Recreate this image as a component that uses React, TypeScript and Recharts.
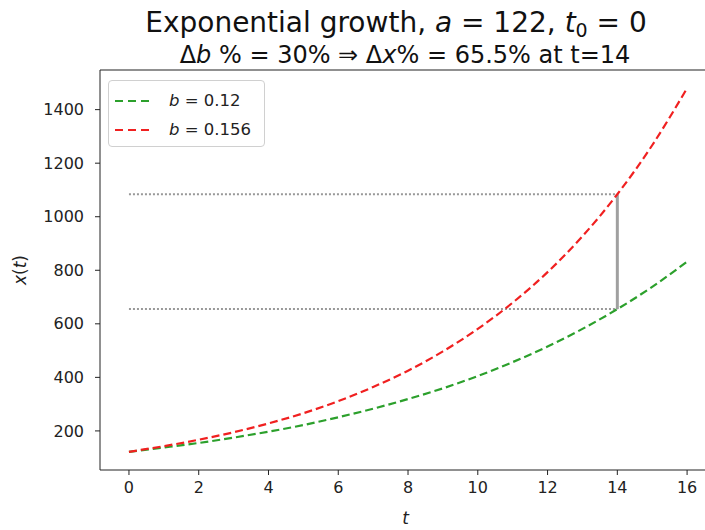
import { LineChart, Line, XAxis, YAxis, ReferenceLine, Legend, Label } from "recharts";

// t values and x(t)
const tValues = [0, 1, 2, 3, 4, 5, 6, 7, 8, 9, 10, 11, 12, 13, 14, 15, 16];
const xSlow = [122, 138, 155, 175, 197, 222, 251, 283, 319, 359, 405, 457, 515, 581, 655, 738, 832];
const xFast = [122, 143, 167, 195, 228, 266, 311, 364, 425, 497, 581, 679, 793, 927, 1084, 1267, 1480];
const bLabels = ["0.12", "0.156"];

const xTicks = [0, 2, 4, 6, 8, 10, 12, 14, 16];
const yTicks = [200, 400, 600, 800, 1000, 1200, 1400];

// comparison marker at t = 14
const markT = 14;
const markSlow = 655;
const markFast = 1084;

const FONT = "'DejaVu Sans', sans-serif";
const GREEN = "#2ca02c";
const RED = "#f02020";

const data = tValues.map((t, i) => ({ t, slow: xSlow[i], fast: xFast[i] }));

function LegendBox({ payload }: any) {
  return (
    <div
      style={{
        border: "1px solid #d0d0d0",
        borderRadius: 4,
        background: "#fff",
        width: 157,
        height: 67,
        boxSizing: "border-box",
        padding: "5px 0 0 6px",
        fontFamily: FONT,
        fontSize: 16.5,
        color: "#222",
      }}
    >
      {(payload || []).map((p: any, i: number) => (
        <div key={i} style={{ display: "flex", alignItems: "center", height: 29 }}>
          <svg width={40} height={10}>
            <line x1={0} y1={5} x2={38} y2={5} stroke={p.color} strokeWidth={2.2} strokeDasharray="8 5" />
          </svg>
          <span style={{ marginLeft: 14 }}>
            <i>b</i> = {bLabels[i]}
          </span>
        </div>
      ))}
    </div>
  );
}

export default function App() {
  return (
    <div
      style={{
        position: "fixed",
        left: 0,
        top: 0,
        width: 705,
        height: 530,
        overflow: "hidden",
        background: "#fff",
        fontFamily: FONT,
      }}
    >
      <svg width={705} height={70} style={{ position: "absolute", left: 0, top: 0 }}>
        <text x={396} y={32} textAnchor="middle" fontSize={28} fill="#111" fontFamily={FONT}>
          Exponential growth, <tspan fontStyle="italic">a</tspan> = 122, <tspan fontStyle="italic">t</tspan>
          <tspan fontSize={19} dy={5}>0</tspan>
          <tspan dy={-5}> = 0</tspan>
        </text>
        <text x={405} y={63} textAnchor="middle" fontSize={24} fill="#111" fontFamily={FONT}>
          Δ<tspan fontStyle="italic">b</tspan> % = 30% ⇒ Δ<tspan fontStyle="italic">x</tspan>% = 65.5% at t=14
        </text>
      </svg>
      <LineChart
        width={720}
        height={530}
        data={data}
        margin={{ top: 70, right: 5, bottom: 0, left: 0 }}
        style={{ position: "absolute", left: 0, top: 0 }}
      >
        <XAxis
          dataKey="t"
          type="number"
          domain={[-0.83, 16.8]}
          allowDataOverflow
          ticks={xTicks}
          height={60}
          tickSize={5}
          tickMargin={7}
          stroke="#222"
          tick={{ fill: "#222", fontSize: 16, fontFamily: FONT }}
        >
          <Label
            content={({ viewBox }: any) => (
              <text
                x={viewBox.x + viewBox.width / 2 - 2}
                y={524}
                textAnchor="middle"
                fontSize={17}
                fontStyle="italic"
                fill="#222"
                fontFamily={FONT}
              >
                t
              </text>
            )}
          />
        </XAxis>
        <YAxis
          type="number"
          domain={[54, 1548]}
          allowDataOverflow
          ticks={yTicks}
          width={100}
          tickSize={5}
          tickMargin={11}
          stroke="#222"
          tick={{ fill: "#222", fontSize: 16, fontFamily: FONT }}
        >
          <Label
            content={({ viewBox }: any) => {
              const cy = viewBox.y + viewBox.height / 2;
              return (
                <text
                  x={20}
                  y={cy}
                  transform={`rotate(-90 20 ${cy})`}
                  textAnchor="middle"
                  dominantBaseline="central"
                  fontSize={17}
                  fill="#222"
                  fontFamily={FONT}
                >
                  <tspan fontStyle="italic">x</tspan>(<tspan fontStyle="italic">t</tspan>)
                </text>
              );
            }}
          />
        </YAxis>
        <ReferenceLine y={1548} stroke="#222" strokeWidth={1.2} />
        <ReferenceLine
          segment={[{ x: 0, y: markFast }, { x: markT, y: markFast }]}
          stroke="#999"
          strokeWidth={2}
          strokeDasharray="2 2"
        />
        <ReferenceLine
          segment={[{ x: 0, y: markSlow }, { x: markT, y: markSlow }]}
          stroke="#999"
          strokeWidth={2}
          strokeDasharray="2 2"
        />
        <ReferenceLine
          segment={[{ x: markT, y: markSlow }, { x: markT, y: markFast }]}
          stroke="#a0a0a0"
          strokeWidth={3}
        />
        <Line
          type="monotone"
          dataKey="slow"
          name="b = 0.12"
          stroke={GREEN}
          strokeWidth={2.2}
          strokeDasharray="8 4"
          dot={false}
          isAnimationActive={false}
        />
        <Line
          type="monotone"
          dataKey="fast"
          name="b = 0.156"
          stroke={RED}
          strokeWidth={2.2}
          strokeDasharray="8 4"
          dot={false}
          isAnimationActive={false}
        />
        <Legend
          layout="vertical"
          verticalAlign="middle"
          align="center"
          content={<LegendBox />}
          wrapperStyle={{ position: "absolute", left: 108, top: 80, width: 157 }}
        />
      </LineChart>
    </div>
  );
}
